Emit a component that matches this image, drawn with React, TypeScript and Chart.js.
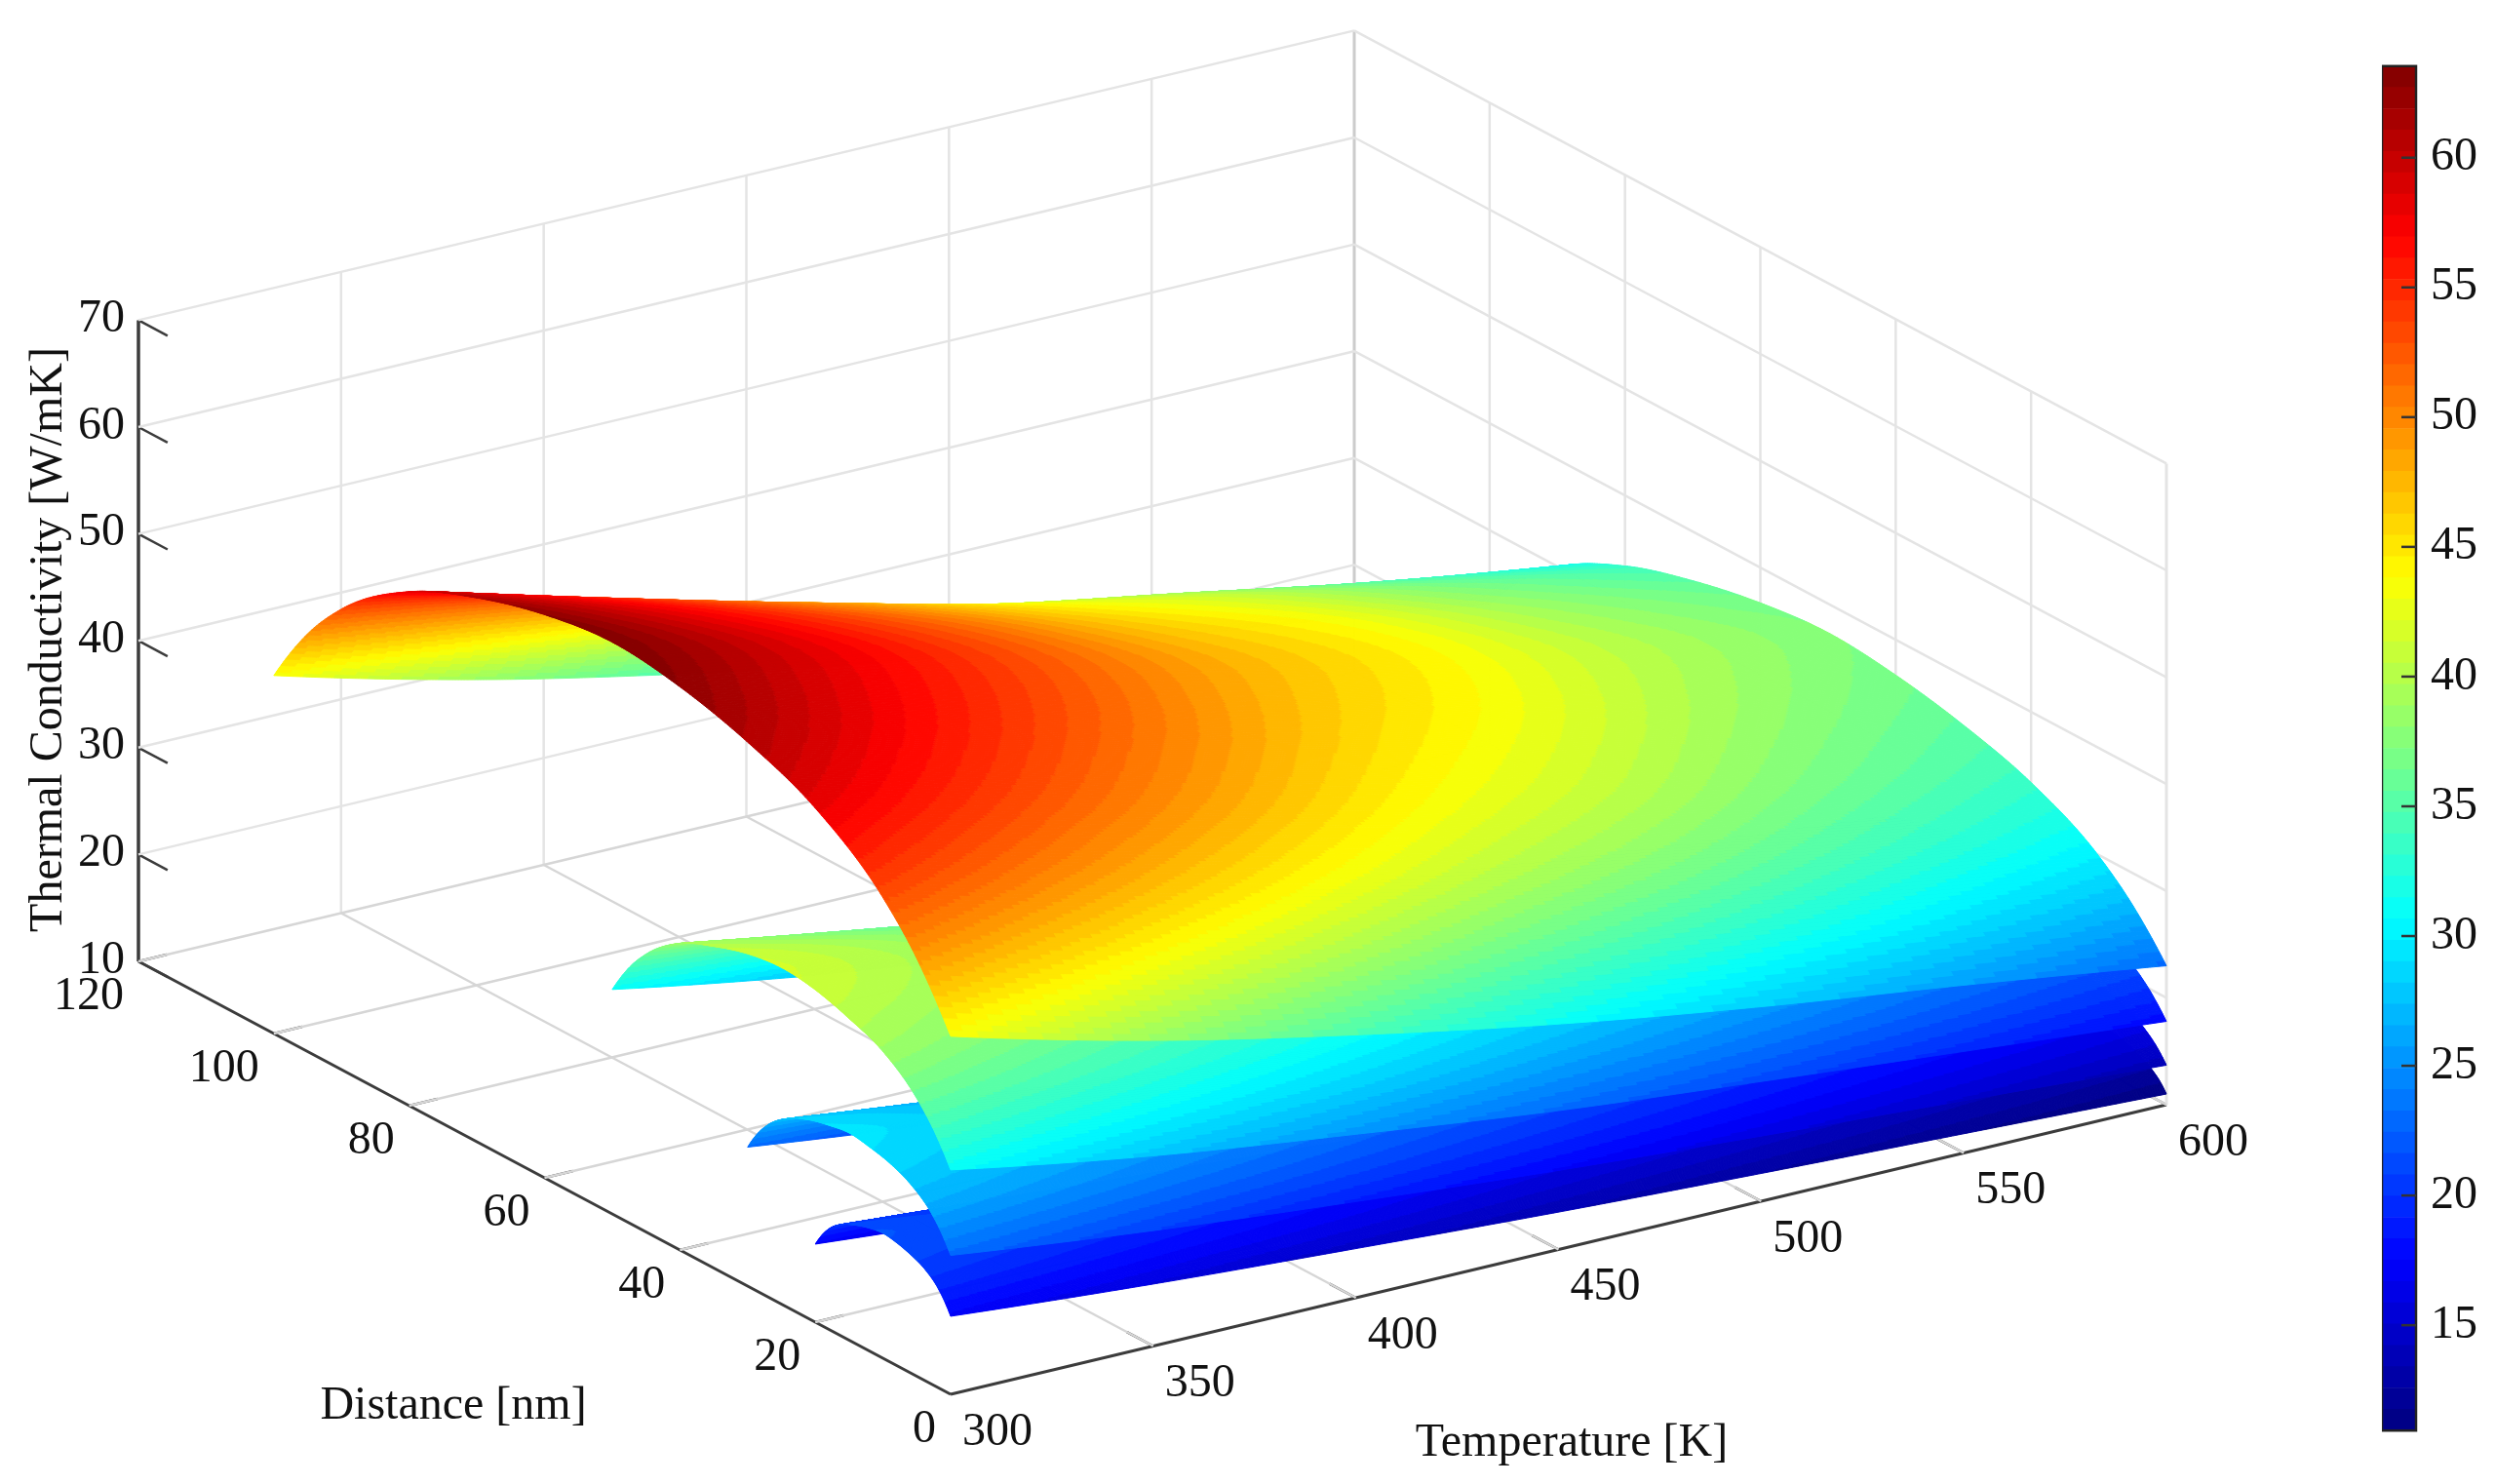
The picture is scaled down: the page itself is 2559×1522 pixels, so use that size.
import React, { useEffect, useRef } from "react";
import { Chart, registerables, Plugin } from "chart.js";

Chart.register(...registerables);

const FONT = "'Liberation Serif'";

const temperatures = [300, 350, 400, 450, 500, 550, 600];

const film20Distances = [0, 1, 2, 4, 6, 8, 10, 12, 14, 16, 18, 19, 20];
const film30Distances = [0, 1.5, 3, 6, 9, 12, 15, 18, 21, 24, 27, 28.5, 30];
const film50Distances = [0, 2.5, 5, 10, 15, 20, 25, 30, 35, 40, 45, 47.5, 50];
const film100Distances = [0, 5, 10, 20, 30, 40, 50, 60, 70, 80, 90, 95, 100];

// one row per temperature, one column per distance
const film20 = [
  [17.3, 18.5, 19.4, 20.5, 21.1, 21.5, 21.7, 21.5, 21.1, 20.5, 19.4, 18.5, 17.3],
  [15.8, 17.1, 18.0, 19.1, 19.7, 20.1, 20.3, 20.1, 19.7, 19.1, 18.0, 17.1, 15.8],
  [14.6, 15.8, 16.7, 17.7, 18.3, 18.7, 18.9, 18.7, 18.3, 17.7, 16.7, 15.8, 14.6],
  [13.5, 14.6, 15.4, 16.4, 17.0, 17.3, 17.5, 17.3, 17.0, 16.4, 15.4, 14.6, 13.5],
  [12.6, 13.6, 14.4, 15.3, 15.8, 16.2, 16.3, 16.2, 15.8, 15.3, 14.4, 13.6, 12.6],
  [11.8, 12.8, 13.4, 14.3, 14.8, 15.1, 15.2, 15.1, 14.8, 14.3, 13.4, 12.8, 11.8],
  [11.0, 11.9, 12.5, 13.3, 13.8, 14.1, 14.2, 14.1, 13.8, 13.3, 12.5, 11.9, 11.0],
];
const film30 = [
  [23.0, 24.8, 26.1, 27.7, 28.6, 29.1, 29.4, 29.1, 28.6, 27.7, 26.1, 24.8, 23.0],
  [20.8, 22.6, 23.9, 25.5, 26.5, 27.0, 27.3, 27.0, 26.5, 25.5, 23.9, 22.6, 20.8],
  [19.0, 20.8, 22.0, 23.6, 24.5, 25.0, 25.3, 25.0, 24.5, 23.6, 22.0, 20.8, 19.0],
  [17.4, 19.1, 20.2, 21.7, 22.5, 23.1, 23.3, 23.1, 22.5, 21.7, 20.2, 19.1, 17.4],
  [16.1, 17.6, 18.6, 20.0, 20.7, 21.2, 21.4, 21.2, 20.7, 20.0, 18.6, 17.6, 16.1],
  [14.9, 16.2, 17.2, 18.4, 19.1, 19.5, 19.7, 19.5, 19.1, 18.4, 17.2, 16.2, 14.9],
  [13.7, 15.0, 15.9, 17.1, 17.7, 18.1, 18.3, 18.1, 17.7, 17.1, 15.9, 15.0, 13.7],
];
const film50 = [
  [31.0, 33.9, 36.0, 38.7, 40.1, 41.1, 41.5, 41.1, 40.1, 38.7, 36.0, 33.9, 31.0],
  [27.8, 30.8, 32.9, 35.6, 37.1, 38.1, 38.5, 38.1, 37.1, 35.6, 32.9, 30.8, 27.8],
  [25.3, 28.2, 30.2, 32.8, 34.3, 35.2, 35.6, 35.2, 34.3, 32.8, 30.2, 28.2, 25.3],
  [23.0, 25.7, 27.6, 30.0, 31.4, 32.2, 32.6, 32.2, 31.4, 30.0, 27.6, 25.7, 23.0],
  [21.2, 23.6, 25.4, 27.6, 28.8, 29.6, 29.9, 29.6, 28.8, 27.6, 25.4, 23.6, 21.2],
  [19.5, 21.7, 23.3, 25.3, 26.4, 27.1, 27.4, 27.1, 26.4, 25.3, 23.3, 21.7, 19.5],
  [17.8, 19.9, 21.4, 23.3, 24.3, 25.0, 25.3, 25.0, 24.3, 23.3, 21.4, 19.9, 17.8],
];
const film100 = [
  [43.5, 49.1, 53.1, 58.1, 60.9, 62.7, 63.5, 62.7, 60.9, 58.1, 53.1, 49.1, 43.5],
  [38.6, 44.1, 48.0, 52.9, 55.7, 57.4, 58.2, 57.4, 55.7, 52.9, 48.0, 44.1, 38.6],
  [34.6, 39.8, 43.4, 48.0, 50.6, 52.3, 53.0, 52.3, 50.6, 48.0, 43.4, 39.8, 34.6],
  [31.1, 35.8, 39.2, 43.4, 45.8, 47.3, 48.0, 47.3, 45.8, 43.4, 39.2, 35.8, 31.1],
  [28.2, 32.7, 35.9, 39.9, 42.1, 43.6, 44.2, 43.6, 42.1, 39.9, 35.9, 32.7, 28.2],
  [25.7, 29.8, 32.7, 36.3, 38.3, 39.6, 40.2, 39.6, 38.3, 36.3, 32.7, 29.8, 25.7],
  [23.0, 27.0, 29.9, 33.4, 35.4, 36.7, 37.3, 36.7, 35.4, 33.4, 29.9, 27.0, 23.0],
];

const temperatureTicks = [300, 350, 400, 450, 500, 550, 600];
const distanceTicks = [0, 20, 40, 60, 80, 100, 120];
const conductivityTicks = [10, 20, 30, 40, 50, 60, 70];
const colorbarTicks = [15, 20, 25, 30, 35, 40, 45, 50, 55, 60];

const COLOR_MIN = 10.94;
const COLOR_MAX = 63.53;
const COLOR_LEVELS = 64;

// view of the 3D box, orthographic like the original
const projectX = (t: number, d: number) =>
  975 + ((t - 300) / 300) * 1247 - (d / 120) * 833;
const projectY = (t: number, d: number, k: number) =>
  1430 - ((t - 300) / 300) * 297 - (d / 120) * 444 - (k - 10) * 10.96;

const clamp01 = (v: number) => Math.max(0, Math.min(1, v));

const jet = (level: number) => {
  const v = (level + 0.5) / COLOR_LEVELS;
  const r = clamp01(Math.min(4 * v - 1.5, -4 * v + 4.5));
  const g = clamp01(Math.min(4 * v - 0.5, -4 * v + 3.5));
  const b = clamp01(Math.min(4 * v + 0.5, -4 * v + 2.5));
  return `rgb(${Math.round(r * 255)},${Math.round(g * 255)},${Math.round(b * 255)})`;
};

const levelForValue = (k: number) => {
  const level = Math.floor(((k - COLOR_MIN) / (COLOR_MAX - COLOR_MIN)) * COLOR_LEVELS);
  return Math.max(0, Math.min(COLOR_LEVELS - 1, level));
};

// smooth shading between the table's vertices, same idea as "shading interp"
const slopeAt = (xs: number[], ys: number[], i: number) => {
  const n = xs.length;
  const h = (a: number) => xs[a + 1] - xs[a];
  const s = (a: number) => (ys[a + 1] - ys[a]) / h(a);
  if (i === 0) return s(0) + ((s(0) - s(1)) * h(0)) / (h(0) + h(1));
  if (i === n - 1)
    return s(n - 2) + ((s(n - 2) - s(n - 3)) * h(n - 2)) / (h(n - 2) + h(n - 3));
  return (h(i - 1) * s(i) + h(i) * s(i - 1)) / (h(i - 1) + h(i));
};

const smoothAt = (xs: number[], ys: number[], x: number) => {
  let i = 0;
  while (i < xs.length - 2 && x > xs[i + 1]) i++;
  const w = xs[i + 1] - xs[i];
  const t = (x - xs[i]) / w;
  const m0 = slopeAt(xs, ys, i) * w;
  const m1 = slopeAt(xs, ys, i + 1) * w;
  return (
    (2 * t ** 3 - 3 * t ** 2 + 1) * ys[i] +
    (t ** 3 - 2 * t ** 2 + t) * m0 +
    (-2 * t ** 3 + 3 * t ** 2) * ys[i + 1] +
    (t ** 3 - t ** 2) * m1
  );
};

const STEPS_T = 432;
const STEPS_D = 288;

const drawFilm = (chart: Chart, distances: number[], values: number[][]) => {
  const { ctx } = chart;
  const xs = chart.scales.x;
  const ys = chart.scales.y;
  const dMax = distances[distances.length - 1];
  const px: number[][] = [];
  const py: number[][] = [];
  const ks: number[][] = [];
  for (let i = 0; i <= STEPS_T; i++) {
    const t = 300 + (i / STEPS_T) * 300;
    const atT = distances.map((_, j) =>
      smoothAt(temperatures, values.map((row) => row[j]), t)
    );
    px.push([]);
    py.push([]);
    ks.push([]);
    for (let j = 0; j <= STEPS_D; j++) {
      const d = (j / STEPS_D) * dMax;
      const k = smoothAt(distances, atT, d);
      px[i].push(xs.getPixelForValue(projectX(t, d)));
      py[i].push(ys.getPixelForValue(projectY(t, d, k)));
      ks[i].push(k);
    }
  }
  ctx.save();
  ctx.lineWidth = 1;
  ctx.lineJoin = "round";
  // back to front: far distance first, high temperature first
  for (let j = STEPS_D - 1; j >= 0; j--) {
    let runLevel = -1;
    let run: Path2D | null = null;
    const flush = () => {
      if (!run) return;
      const color = jet(runLevel);
      ctx.fillStyle = color;
      ctx.strokeStyle = color;
      ctx.fill(run);
      ctx.stroke(run);
    };
    for (let i = STEPS_T - 1; i >= 0; i--) {
      const level = levelForValue(
        (ks[i][j] + ks[i + 1][j] + ks[i][j + 1] + ks[i + 1][j + 1]) / 4
      );
      if (level !== runLevel) {
        flush();
        run = new Path2D();
        runLevel = level;
      }
      run!.moveTo(px[i][j], py[i][j]);
      run!.lineTo(px[i + 1][j], py[i + 1][j]);
      run!.lineTo(px[i + 1][j + 1], py[i + 1][j + 1]);
      run!.lineTo(px[i][j + 1], py[i][j + 1]);
      run!.closePath();
    }
    flush();
  }
  ctx.restore();
};

const surfacePlugin: Plugin<"scatter"> = {
  id: "surfacePlugin",
  afterDatasetsDraw(chart) {
    drawFilm(chart as any, film20Distances, film20);
    drawFilm(chart as any, film30Distances, film30);
    drawFilm(chart as any, film50Distances, film50);
    drawFilm(chart as any, film100Distances, film100);
  },
};

const axisTextPlugin: Plugin<"scatter"> = {
  id: "axisTextPlugin",
  afterDraw(chart) {
    const { ctx } = chart;
    const xs = chart.scales.x;
    const ys = chart.scales.y;
    const at = (t: number, d: number, k: number) => [
      xs.getPixelForValue(projectX(t, d)),
      ys.getPixelForValue(projectY(t, d, k)),
    ];
    ctx.save();
    ctx.fillStyle = "#111";
    ctx.font = `48px ${FONT}`;
    ctx.textBaseline = "middle";

    ctx.textAlign = "right";
    conductivityTicks.forEach((k) => {
      const [x, y] = at(300, 120, k);
      ctx.fillText(String(k), x - 14, y - 1);
    });
    distanceTicks.forEach((d) => {
      const [x, y] = at(300, d, 10);
      ctx.fillText(String(d), x - 15, y + 36);
    });
    ctx.textAlign = "center";
    temperatureTicks.forEach((t) => {
      const [x, y] = at(t, 0, 10);
      ctx.fillText(String(t), x + 48, y + 39);
    });

    ctx.fillText("Distance [nm]", 465, 1442);
    ctx.fillText("Temperature [K]", 1612, 1480);
    ctx.translate(50, 656);
    ctx.rotate(-Math.PI / 2);
    ctx.fillText("Thermal Conductivity [W/mK]", 0, 0);
    ctx.restore();
  },
};

type P = [number, number, number];

const line3d = (from: P, to: P, color: string, width: number) => ({
  type: "scatter" as const,
  showLine: true,
  pointRadius: 0,
  borderColor: color,
  borderWidth: width,
  data: [from, to].map(([t, d, k]) => ({ x: projectX(t, d), y: projectY(t, d, k) })),
});

const WALL = "#e4e4e4";
const FLOOR = "#d6d6d6";
const AXIS = "#3c3c3c";

const boxDatasets = () => {
  const sets: any[] = [];
  conductivityTicks.forEach((k) => {
    sets.push(line3d([300, 120, k], [600, 120, k], k === 10 ? FLOOR : WALL, 2.5));
    sets.push(line3d([600, 120, k], [600, 0, k], k === 10 ? FLOOR : WALL, 2.5));
  });
  temperatureTicks.slice(1, -1).forEach((t) => {
    sets.push(line3d([t, 120, 10], [t, 120, 70], WALL, 2.5));
    sets.push(line3d([t, 0, 10], [t, 120, 10], FLOOR, 2.5));
  });
  distanceTicks.slice(1, -1).forEach((d) => {
    sets.push(line3d([600, d, 10], [600, d, 70], WALL, 2.5));
    sets.push(line3d([300, d, 10], [600, d, 10], FLOOR, 2.5));
  });
  sets.push(line3d([600, 0, 10], [600, 0, 70], WALL, 3));
  sets.push(line3d([600, 0, 10], [600, 120, 10], FLOOR, 2.5));
  sets.push(line3d([600, 120, 10], [600, 120, 70], "#cccccc", 3));

  sets.push(line3d([300, 120, 10], [300, 120, 70], AXIS, 3.5));
  sets.push(line3d([300, 120, 10], [300, 0, 10], AXIS, 3));
  sets.push(line3d([300, 0, 10], [600, 0, 10], AXIS, 3));
  conductivityTicks.forEach((k) => {
    sets.push(line3d([300, 120, k], [300, 115.7, k], AXIS, 2.5));
  });
  distanceTicks.slice(1).forEach((d) => {
    sets.push(line3d([300, d, 10], [307, d, 10], AXIS, 2.5));
  });
  temperatureTicks.slice(1).forEach((t) => {
    sets.push(line3d([t, 0, 10], [t, 3.9, 10], AXIS, 2.5));
  });
  return sets;
};

const colorbarFrame: Plugin<"bar"> = {
  id: "colorbarFrame",
  afterDraw(chart) {
    const { ctx, chartArea } = chart;
    const ys = chart.scales.y;
    ctx.save();
    ctx.strokeStyle = "#222";
    ctx.lineWidth = 2.5;
    ctx.strokeRect(
      chartArea.left,
      chartArea.top,
      chartArea.right - chartArea.left,
      chartArea.bottom - chartArea.top
    );
    ctx.strokeStyle = "#333";
    colorbarTicks.forEach((v) => {
      const y = ys.getPixelForValue(v);
      ctx.beginPath();
      ctx.moveTo(chartArea.right - 15, y);
      ctx.lineTo(chartArea.right, y);
      ctx.stroke();
    });
    ctx.restore();
  },
};

const App: React.FC = () => {
  const plotRef = useRef<HTMLCanvasElement | null>(null);
  const barRef = useRef<HTMLCanvasElement | null>(null);

  useEffect(() => {
    if (!plotRef.current || !barRef.current) return;

    const plot = new Chart(plotRef.current, {
      type: "scatter",
      data: { datasets: boxDatasets() },
      options: {
        animation: false,
        responsive: false,
        devicePixelRatio: 1,
        layout: { padding: 0 },
        plugins: { legend: { display: false }, tooltip: { enabled: false } },
        scales: {
          x: { type: "linear", display: false, min: 0, max: 2559 },
          y: { type: "linear", display: false, min: 0, max: 1522, reverse: true },
        },
      },
      plugins: [surfacePlugin, axisTextPlugin],
    });

    const step = (COLOR_MAX - COLOR_MIN) / COLOR_LEVELS;
    const bar = new Chart(barRef.current, {
      type: "bar",
      data: {
        labels: [""],
        datasets: Array.from({ length: COLOR_LEVELS }, (_, i) => ({
          data: [[COLOR_MIN + i * step, COLOR_MIN + (i + 1) * step] as any],
          backgroundColor: jet(i),
          borderWidth: 0,
          barPercentage: 1,
          categoryPercentage: 1,
          grouped: false,
        })),
      },
      options: {
        animation: false,
        responsive: false,
        devicePixelRatio: 1,
        layout: { padding: 0 },
        plugins: { legend: { display: false }, tooltip: { enabled: false } },
        scales: {
          x: { display: false },
          y: {
            position: "right",
            min: COLOR_MIN,
            max: COLOR_MAX,
            afterBuildTicks: (scale) => {
              scale.ticks = colorbarTicks.map((value) => ({ value }));
            },
            afterFit: (scale) => {
              scale.width = 81;
            },
            grid: { display: false },
            border: { display: false },
            ticks: {
              color: "#111",
              padding: 7,
              font: { family: FONT, size: 48 },
            },
          },
        },
      },
      plugins: [colorbarFrame],
    });

    return () => {
      plot.destroy();
      bar.destroy();
    };
  }, []);

  return (
    <div
      style={{
        position: "fixed",
        left: 0,
        top: 0,
        width: 2559,
        height: 1522,
        background: "#fff",
      }}
    >
      <canvas
        ref={plotRef}
        width={2559}
        height={1522}
        style={{ position: "absolute", left: 0, top: 0 }}
      />
      <canvas
        ref={barRef}
        width={116}
        height={1471}
        style={{ position: "absolute", left: 2443, top: 32 }}
      />
    </div>
  );
};

export default App;
